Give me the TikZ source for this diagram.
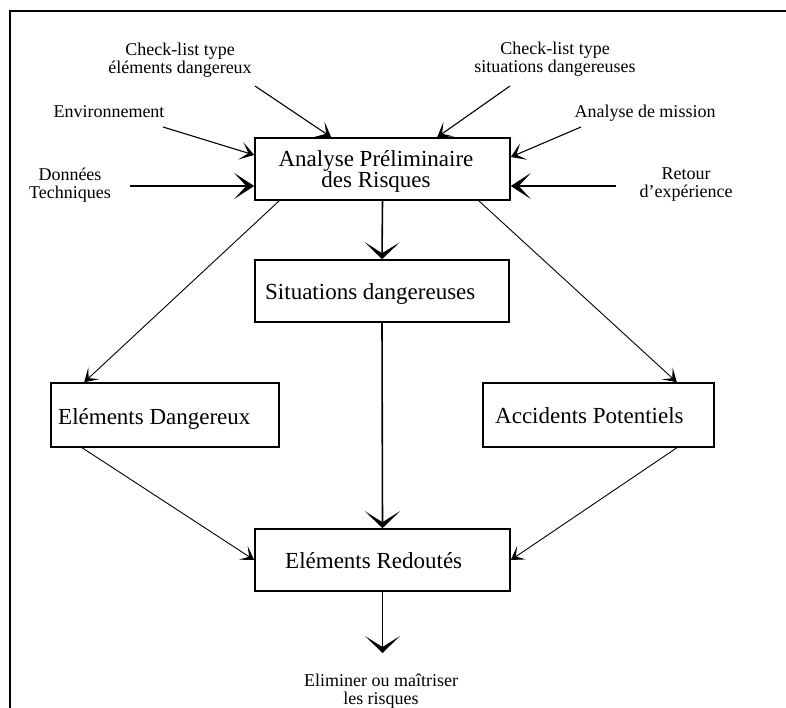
\documentclass[tikz,border=0pt]{standalone}
\usepackage{fontspec}
\setmainfont{Liberation Serif}
\usetikzlibrary{arrows.meta,calc}

\begin{document}
\begin{tikzpicture}[x=1pt,y=-1pt,
  box/.style={draw, line width=1.6pt, inner sep=0pt},
  bigtxt/.style={font=\fontsize{23}{21}\selectfont, inner sep=0pt},
  smalltxt/.style={font=\fontsize{18}{18}\selectfont, inner sep=0pt, align=center},
  flow/.style={line width=1.6pt, -{Stealth[length=17pt,width=35pt,inset=11pt]}},
  feed/.style={line width=1.1pt, -{Stealth[length=14pt,width=18pt,inset=8pt]}},
  feedbig/.style={line width=1.3pt, -{Stealth[length=20pt,width=26pt,inset=12pt]}},
  branch/.style={line width=0.9pt, -{Stealth[length=13pt,width=16pt,inset=7pt]}}]

\useasboundingbox (0,0) rectangle (786,708);
\fill[white] (0,0) rectangle (786,708);

% outer frame (open towards the right and bottom edges)
\draw[line width=2pt] (10,708) -- (10,11) -- (786,11);

% boxes
\node[box, minimum width=255pt, minimum height=62pt] (apr) at (382.5,169) {};
\node[box, minimum width=254pt, minimum height=62pt] (sit) at (382,291) {};
\node[box, minimum width=228pt, minimum height=64pt] (ed)  at (165,415) {};
\node[box, minimum width=231pt, minimum height=64pt] (ap)  at (598.5,415) {};
\node[box, minimum width=255pt, minimum height=62pt] (er)  at (382.5,560) {};

% box texts
\node[bigtxt, align=center] (aprt) at (376,171) {Analyse Préliminaire\\des Risques};
\node[bigtxt, anchor=base west] (sitt) at (265,299) {Situations dangereuses};
\node[bigtxt, anchor=base west] (edt) at (58,424) {Eléments Dangereux};
\node[bigtxt, anchor=base west] (apt) at (495,423) {Accidents Potentiels};
\node[bigtxt, anchor=base west] (ert) at (285,568) {Eléments Redoutés};

% input labels
\node[smalltxt] (cl1) at (180,60) {Check-list type\\éléments dangereux};
\node[smalltxt] (cl2) at (555,59) {Check-list type\\situations dangereuses};
\node[smalltxt, anchor=base] (env) at (109,118) {Environnement};
\node[smalltxt] (don) at (70,185) {Données\\Techniques};
\node[smalltxt, anchor=base] (mis) at (645,118) {Analyse de mission};
\node[smalltxt] (ret) at (686,185) {Retour\\d'expérience};
\node[smalltxt] (elim) at (381,691) {Eliminer ou maîtriser\\les risques};

% free ends of the input arrows
\coordinate (cl1s) at (255,86);
\coordinate (cl2s) at (510,86);
\coordinate (envs) at (163,127);
\coordinate (dons) at (130,186);
\coordinate (miss) at (581,127);
\coordinate (rets) at (616,186);
\coordinate (elimtip) at (382.5,653);

% inputs into the preliminary analysis
\draw[feed] (cl1s) -- ([xshift=77pt]apr.north west);
\draw[feed] (cl2s) -- ([xshift=183pt]apr.north west);
\draw[feed] (envs) -- ([yshift=14pt]apr.west);
\draw[feedbig] (dons) -- ([yshift=-17pt]apr.west);
\draw[feed] (miss) -- ([yshift=12pt]apr.east);
\draw[feedbig] (rets) -- ([yshift=-17pt]apr.east);

% main flow
\draw[flow] (apr.south) -- (sit.north);
\draw[flow] (sit.south) -- (er.north);
\draw[flow] (er.south) -- (elimtip);

% side branches
\draw[branch] ([xshift=25pt]apr.south west) -- ([xshift=34pt]ed.north west);
\draw[branch] ([xshift=-32pt]apr.south east) -- ([xshift=-38pt]ap.north east);
\draw[branch] ([xshift=32pt]ed.south west) -- (er.west);
\draw[branch] ([xshift=-38pt]ap.south east) -- (er.east);
\end{tikzpicture}
\end{document}
